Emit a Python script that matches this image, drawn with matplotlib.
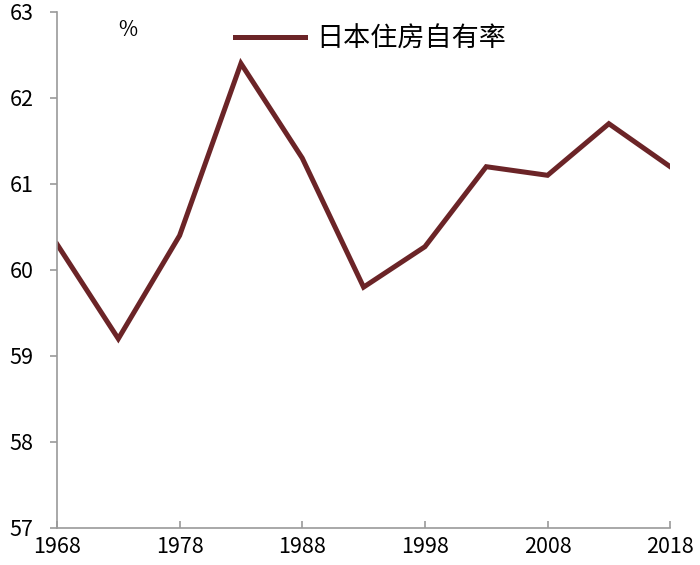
import matplotlib
matplotlib.use("Agg")
import matplotlib.pyplot as plt

plt.rcParams['font.family'] = ['Noto Sans CJK SC', 'DejaVu Sans']

years = [1968, 1973, 1978, 1983, 1988, 1993, 1998, 2003, 2008, 2013, 2018]
rate = [60.3, 59.2, 60.4, 62.4, 61.3, 59.8, 60.27, 61.2, 61.1, 61.7, 61.2]
xticks = [1968, 1978, 1988, 1998, 2008, 2018]
yticks = [57, 58, 59, 60, 61, 62, 63]

LINE = "#6B2427"
AXIS = "#9a9a9a"

fig = plt.figure(figsize=(7, 5.65), dpi=100)
ax = fig.add_axes([0.0814, 0.0655, 0.876, 0.9135])
ax.plot(years, rate, color=LINE, lw=3.6, solid_joinstyle="miter", label="日本住房自有率")
ax.set_xlim(1968, 2018); ax.set_ylim(57, 63)
ax.set_xticks(xticks); ax.set_yticks(yticks)
for s in ["top", "right"]: ax.spines[s].set_visible(False)
for s in ["left", "bottom"]: ax.spines[s].set_color(AXIS); ax.spines[s].set_linewidth(1.2)
ax.tick_params(axis="x", direction="in", length=5, color=AXIS, width=1.2, labelsize=15.5, pad=6)
ax.tick_params(axis="y", direction="out", length=5, color=AXIS, width=1.2, labelsize=15.5, pad=12)
ax.text(0.115, 0.965, "%", transform=ax.transAxes, fontsize=15, ha="center", va="center")
ax.legend(loc="upper left", bbox_to_anchor=(0.25, 1.02), frameon=False, fontsize=19.5, handlelength=2.6, handletextpad=0.4)
fig.savefig("out.png", dpi=100)
